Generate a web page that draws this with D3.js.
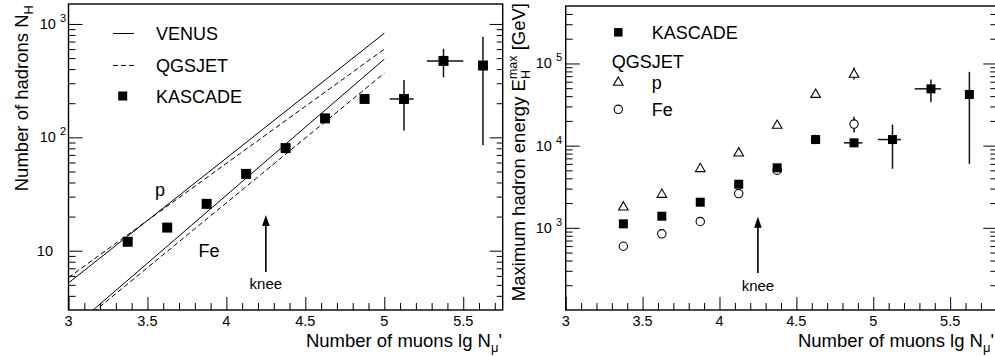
<!DOCTYPE html>
<html><head><meta charset="utf-8">
<script src="https://cdn.jsdelivr.net/npm/d3@7"></script>
<style>
html,body{margin:0;padding:0;background:#fff;}
svg{display:block;}
text{font-family:"Liberation Sans",Arial,Helvetica,sans-serif;fill:#000;}
</style></head><body>
<svg id="chart" width="995" height="356"></svg>
<script>
// Muon-size bins (lg N_mu')
const lgNmu = [3.375, 3.625, 3.875, 4.125, 4.375, 4.625, 4.875, 5.125, 5.375, 5.625];

// Left panel: number of hadrons, KASCADE measurement
const hadronsKascade = [12.0, 16.0, 25.9, 47.6, 80.4, 147, 218, 218, 472, 430];
const hadronsErrLow  = [null, null, null, null, null, null, null, 115, 339, 85];
const hadronsErrHigh = [null, null, null, null, null, null, null, 321, 603, 773];
const hadronsMuLow   = [null, null, null, null, null, null, null, 5.034, 5.27, null];
const hadronsMuHigh  = [null, null, null, null, null, null, null, 5.186, 5.50, null];

// Left panel: model predictions (values at lg N_mu' = 3 and 5)
const modelLgNmu = [3, 5];
const venusP   = [5.2, 828];
const qgsjetP  = [5.8, 598];
const venusFe  = [1.95, 489];
const qgsjetFe = [1.9, 368];

// Right panel: maximum hadron energy [GeV]
const emaxKascade  = [1118, 1384, 2048, 3390, 5370, 11860, 10810, 11860, 49100, 41900];
const emaxErrLow   = [null, null, null, null, null, null, null, 5230, 33700, 6010];
const emaxErrHigh  = [null, null, null, null, null, null, null, 18070, 63700, 79000];
const emaxMuLow    = [null, null, null, null, null, null, 4.81, 5.03, 5.27, null];
const emaxMuHigh   = [null, null, null, null, null, null, 4.93, 5.18, 5.44, null];

const simLgNmu      = [3.375, 3.625, 3.875, 4.125, 4.375, 4.625, 4.875];
const emaxQgsjetP   = [1830, 2610, 5370, 8320, 18060, 42990, 75400];
const emaxQgsjetPLo = [null, null, null, null, null, null, 63700];
const emaxQgsjetPHi = [null, null, null, null, null, null, 89100];
const emaxQgsjetFe  = [597, 845, 1193, 2610, 5030, 11900, 18280];
const emaxQgsjetFeLo= [null, null, null, null, null, null, 14400];
const emaxQgsjetFeHi= [null, null, null, null, null, null, 22400];

// Axis ticks
const xMajor = [3, 3.5, 4, 4.5, 5, 5.5];
const xMajorLabels = ["3", "3.5", "4", "4.5", "5", "5.5"];
const yMajorLeft = [10, 100, 1000];
const yMajorLeftLabels = [["10", ""], ["10", "2"], ["10", "3"]];
const yMajorRight = [1e3, 1e4, 1e5];
const yMajorRightLabels = [["10", "3"], ["10", "4"], ["10", "5"]];

const svg = d3.select("#chart");
const FONT_TICK = 14.5, FONT_TITLE = 18, FONT_AXIS = 18.5;

function minorLogTicks(lo, hi) {
  const out = [];
  for (let e = Math.floor(Math.log10(lo)); e <= Math.ceil(Math.log10(hi)); e++) {
    for (let m = 2; m <= 9; m++) {
      const v = m * Math.pow(10, e);
      if (v >= lo * 1.0001 && v <= hi * 0.9999) out.push(v);
    }
  }
  return out;
}

function drawFrame(g, x, y, yMajor, yLabels, labelEndMajor, labelEndPlain, clipId) {
  const [x0, x1] = x.range();
  const [y0, y1] = y.range(); // y0 bottom, y1 top
  const xMinor = d3.range(31, 58).map(d => d / 10).filter(v => !xMajor.includes(v) && v < x.domain()[1]);
  const yMinor = minorLogTicks(y.domain()[0], y.domain()[1]);

  const put = (axis, tr) => {
    const a = g.append("g").attr("transform", tr).call(axis);
    a.select(".domain").remove();
    a.selectAll("line").attr("stroke", "#000").attr("stroke-width", 1);
    return a;
  };
  put(d3.axisBottom(x).tickValues(xMajor).tickSize(-13).tickFormat(""), `translate(0,${y0})`);
  put(d3.axisBottom(x).tickValues(xMinor).tickSize(-7).tickFormat(""), `translate(0,${y0})`);
  put(d3.axisLeft(y).tickValues(yMajor).tickSize(-14).tickFormat(""), `translate(${x0},0)`);
  put(d3.axisLeft(y).tickValues(yMinor).tickSize(-7).tickFormat(""), `translate(${x0},0)`);
  put(d3.axisRight(y).tickValues(yMajor).tickSize(-13).tickFormat(""), `translate(${x1},0)`);
  put(d3.axisRight(y).tickValues(yMinor).tickSize(-6).tickFormat(""), `translate(${x1},0)`);

  g.append("rect").attr("x", x0).attr("y", y1).attr("width", x1 - x0).attr("height", y0 - y1)
    .attr("fill", "none").attr("stroke", "#000").attr("stroke-width", 1.4);

  g.append("clipPath").attr("id", clipId).append("rect")
    .attr("x", x0).attr("y", y1).attr("width", x1 - x0).attr("height", y0 - y1);

  // x tick labels
  g.selectAll(null).data(xMajor).join("text")
    .attr("x", d => x(d)).attr("y", y0 + 16)
    .attr("text-anchor", "middle").attr("font-size", FONT_TICK)
    .text((d, i) => xMajorLabels[i]);

  // y tick labels (10 with superscript exponent)
  yMajor.forEach((v, i) => {
    const [base, exp] = yLabels[i];
    const t = g.append("text").attr("y", y(v) + 5).attr("font-size", FONT_TICK).attr("text-anchor", "end");
    if (exp) {
      t.attr("x", labelEndMajor);
      t.append("tspan").text(base);
      t.append("tspan").attr("dx", 4).attr("dy", -7).attr("font-size", 11).text(exp);
    } else {
      t.attr("x", labelEndPlain).text(base);
    }
  });
}

function drawArrow(g, x, yTip, yEnd) {
  g.append("line").attr("x1", x).attr("x2", x).attr("y1", yTip + 8).attr("y2", yEnd)
    .attr("stroke", "#000").attr("stroke-width", 1.6);
  g.append("path").attr("d", `M${x},${yTip} L${x - 3.8},${yTip + 11} L${x + 3.8},${yTip + 11} Z`).attr("fill", "#000");
}

function drawErrors(g, x, y, xs, ys, yLo, yHi, xLo, xHi) {
  xs.forEach((xv, i) => {
    if (yLo && yLo[i] != null) {
      g.append("line").attr("x1", x(xv)).attr("x2", x(xv)).attr("y1", y(yLo[i])).attr("y2", y(yHi[i]))
        .attr("stroke", "#111").attr("stroke-width", 1.5);
    }
    if (xLo && xLo[i] != null) {
      g.append("line").attr("x1", x(xLo[i])).attr("x2", x(xHi[i])).attr("y1", y(ys[i])).attr("y2", y(ys[i]))
        .attr("stroke", "#111").attr("stroke-width", 1.5);
    }
  });
}

// ================= Left panel =================
const xL = d3.scaleLinear().domain([3, 5.75]).range([68.5, 502.7]);
const yL = d3.scaleLog().domain([3, 1500]).range([310, 4]);
const gL = svg.append("g");

drawFrame(gL, xL, yL, yMajorLeft, yMajorLeftLabels, 66, 53, "clipL");

const modelLine = d3.line().x(d => xL(d[0])).y(d => yL(d[1]));
const models = [
  { vals: venusP, dash: null }, { vals: qgsjetP, dash: "5,3" },
  { vals: venusFe, dash: null }, { vals: qgsjetFe, dash: "5,3" }
];
const gLines = gL.append("g").attr("clip-path", "url(#clipL)");
models.forEach(m => {
  gLines.append("path").datum(modelLgNmu.map((xv, i) => [xv, m.vals[i]]))
    .attr("d", modelLine).attr("fill", "none").attr("stroke", "#000").attr("stroke-width", 1)
    .attr("stroke-dasharray", m.dash);
});

drawErrors(gL, xL, yL, lgNmu, hadronsKascade, hadronsErrLow, hadronsErrHigh, hadronsMuLow, hadronsMuHigh);
gL.selectAll(".sqL").data(lgNmu).join("path")
  .attr("transform", (d, i) => `translate(${xL(d)},${yL(hadronsKascade[i])})`)
  .attr("d", d3.symbol(d3.symbolSquare, 100)).attr("fill", "#000");

// curve labels
gL.append("text").attr("x", 160).attr("y", 196).attr("text-anchor", "middle").attr("font-size", FONT_TITLE).text("p");
gL.append("text").attr("x", 209).attr("y", 257).attr("text-anchor", "middle").attr("font-size", FONT_TITLE).text("Fe");

// legend
gL.append("line").attr("x1", 113).attr("x2", 134).attr("y1", 33.5).attr("y2", 33.5).attr("stroke", "#000");
gL.append("line").attr("x1", 113).attr("x2", 134).attr("y1", 65.5).attr("y2", 65.5).attr("stroke", "#000").attr("stroke-dasharray", "5,3");
gL.append("path").attr("transform", "translate(122.7,96)").attr("d", d3.symbol(d3.symbolSquare, 81)).attr("fill", "#000");
[["VENUS", 33], ["QGSJET", 65], ["KASCADE", 96]].forEach(([t, yy]) => {
  gL.append("text").attr("x", 156).attr("y", yy + 6.5).attr("font-size", FONT_TITLE).text(t);
});

// knee
drawArrow(gL, xL(4.25), 215, 272);
gL.append("text").attr("x", xL(4.25)).attr("y", 289).attr("text-anchor", "middle").attr("font-size", 15).text("knee");

// axis titles
const xt1 = gL.append("text").attr("x", 502).attr("y", 346.5).attr("text-anchor", "end").attr("font-size", FONT_AXIS);
xt1.append("tspan").text("Number of muons lg N");
xt1.append("tspan").attr("dy", 5).attr("font-size", 13).text("μ");
xt1.append("tspan").attr("dy", -5).text("'");

const yt1 = gL.append("text").attr("transform", "translate(28,5) rotate(-90)").attr("text-anchor", "end").attr("font-size", FONT_AXIS);
yt1.append("tspan").text("Number of hadrons N");
yt1.append("tspan").attr("dy", 5).attr("font-size", 13).text("H");

// ================= Right panel =================
const xR = d3.scaleLinear().domain([3, 5.8]).range([565.7, 996.3]);
const yR = d3.scaleLog().domain([100, 5e5]).range([310, 6]);
const gR = svg.append("g");

drawFrame(gR, xR, yR, yMajorRight, yMajorRightLabels, 562, 550, "clipR");

drawErrors(gR, xR, yR, simLgNmu, emaxQgsjetP, emaxQgsjetPLo, emaxQgsjetPHi, null, null);
drawErrors(gR, xR, yR, simLgNmu, emaxQgsjetFe, emaxQgsjetFeLo, emaxQgsjetFeHi, null, null);

gR.selectAll(".triR").data(simLgNmu).join("path")
  .attr("transform", (d, i) => `translate(${xR(d)},${yR(emaxQgsjetP[i]) + 1})`)
  .attr("d", d3.symbol(d3.symbolTriangle, 40)).attr("fill", "#fff").attr("stroke", "#000").attr("stroke-width", 1.1);
gR.selectAll(".cirR").data(simLgNmu).join("path")
  .attr("transform", (d, i) => `translate(${xR(d)},${yR(emaxQgsjetFe[i])})`)
  .attr("d", d3.symbol(d3.symbolCircle, 55)).attr("fill", "#fff").attr("stroke", "#000").attr("stroke-width", 1.1);

drawErrors(gR, xR, yR, lgNmu, emaxKascade, emaxErrLow, emaxErrHigh, emaxMuLow, emaxMuHigh);
gR.selectAll(".sqR").data(lgNmu).join("path")
  .attr("transform", (d, i) => `translate(${xR(d)},${yR(emaxKascade[i])})`)
  .attr("d", d3.symbol(d3.symbolSquare, 81)).attr("fill", "#000");

// legend
gR.append("path").attr("transform", "translate(618.3,32.3)").attr("d", d3.symbol(d3.symbolSquare, 72)).attr("fill", "#000");
gR.append("text").attr("x", 651.7).attr("y", 38.8).attr("font-size", FONT_TITLE).text("KASCADE");
gR.append("text").attr("x", 611.7).attr("y", 67.5).attr("font-size", FONT_TITLE).text("QGSJET");
gR.append("path").attr("transform", "translate(618.3,82.5)").attr("d", d3.symbol(d3.symbolTriangle, 40))
  .attr("fill", "#fff").attr("stroke", "#000").attr("stroke-width", 1.1);
gR.append("text").attr("x", 651.7).attr("y", 88.5).attr("font-size", FONT_TITLE).text("p");
gR.append("path").attr("transform", "translate(618.3,109.3)").attr("d", d3.symbol(d3.symbolCircle, 55))
  .attr("fill", "#fff").attr("stroke", "#000").attr("stroke-width", 1.1);
gR.append("text").attr("x", 651.7).attr("y", 115.8).attr("font-size", FONT_TITLE).text("Fe");

// knee
drawArrow(gR, xR(4.25), 216.7, 273);
gR.append("text").attr("x", xR(4.25)).attr("y", 291).attr("text-anchor", "middle").attr("font-size", 15).text("knee");

// axis titles
const xt2 = gR.append("text").attr("x", 994).attr("y", 346.5).attr("text-anchor", "end").attr("font-size", FONT_AXIS);
xt2.append("tspan").text("Number of muons lg N");
xt2.append("tspan").attr("dy", 5).attr("font-size", 13).text("μ");
xt2.append("tspan").attr("dy", -5).text("'");

const yt2 = gR.append("text").attr("transform", "translate(525,3) rotate(-90)").attr("text-anchor", "end").attr("font-size", FONT_AXIS);
yt2.append("tspan").text("Maximum hadron energy E");
yt2.append("tspan").attr("dy", 5).attr("font-size", 12.5).text("H");
yt2.append("tspan").attr("dx", -9).attr("dy", -13).attr("font-size", 12.5).text("max");
yt2.append("tspan").attr("dy", 8).text(" [GeV]");
</script>
</body></html>
